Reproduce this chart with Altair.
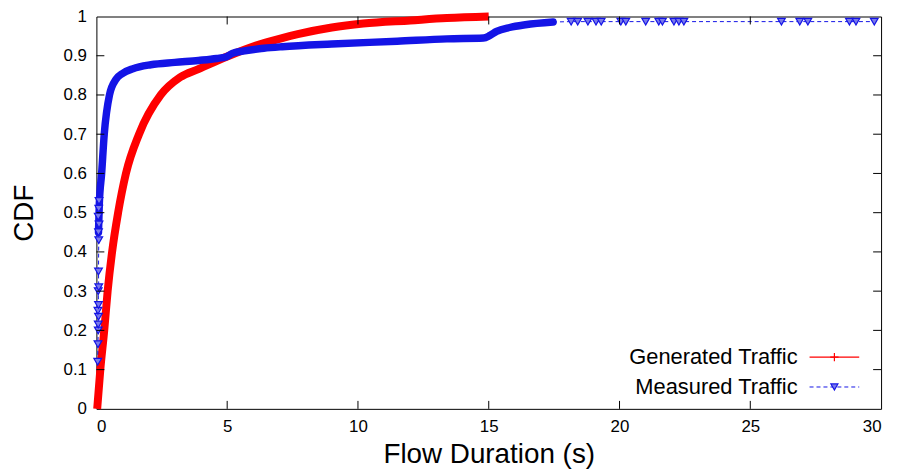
import altair as alt
import pandas as pd

# ---- data ----
SERIES = ["Generated Traffic", "Measured Traffic"]

GEN_X = [0.03, 0.15, 0.30, 0.43, 0.60, 0.83, 1.13, 1.63, 2.46, 3.20, 3.90, 5.00, 6.10, 7.10, 7.70, 9.00, 10.20, 12.00, 13.40, 15.00]
GEN_Y = [0.00, 0.10, 0.20, 0.30, 0.40, 0.50, 0.60, 0.70, 0.80, 0.845, 0.866, 0.898, 0.926, 0.945, 0.955, 0.972, 0.982, 0.990, 0.996, 1.000]

# isolated markers close to x = 0
MEAS_COL_X = [0.05, 0.06, 0.07, 0.07, 0.08, 0.06, 0.08, 0.07, 0.09, 0.08, 0.09, 0.08, 0.10, 0.07, 0.09, 0.10]
MEAS_COL_Y = [0.12, 0.165, 0.20, 0.215, 0.235, 0.25, 0.265, 0.30, 0.31, 0.35, 0.43, 0.45, 0.47, 0.49, 0.51, 0.53]

# dense part of the measured curve
MEAS_X = [0.08, 0.11, 0.20, 0.30, 0.50, 0.75, 1.00, 1.40, 2.08, 3.00, 3.90, 4.60, 4.95, 5.20, 5.60, 6.40, 7.10, 9.00, 11.50, 13.40, 14.80, 15.05, 15.30, 15.80, 16.40, 17.46]
MEAS_Y = [0.45, 0.52, 0.60, 0.70, 0.80, 0.84, 0.855, 0.867, 0.877, 0.883, 0.888, 0.893, 0.897, 0.906, 0.912, 0.919, 0.923, 0.930, 0.937, 0.943, 0.945, 0.952, 0.962, 0.972, 0.979, 0.986]

# sparse tail markers
MEAS_SPARSE_X = [18.15, 18.40, 18.79, 19.10, 19.30, 20.05, 20.24, 21.00, 21.50, 21.64, 22.08, 22.27, 22.46, 26.19, 26.89, 27.20, 28.79, 29.04, 29.74]
MEAS_SPARSE_Y = [0.987] * len(MEAS_SPARSE_X)

X_TICKS = [0, 5, 10, 15, 20, 25, 30]
Y_TICKS = [0, 0.1, 0.2, 0.3, 0.4, 0.5, 0.6, 0.7, 0.8, 0.9, 1.0]

X_TITLE = "Flow Duration (s)"
Y_TITLE = "CDF"

# ---- styling ----
FONT = "Liberation Sans"
RED = "#ff0000"
BLUE = "#1414e6"
BLUE_FILL = "#7a7aea"
W, H = 790, 395

gen = pd.DataFrame({"x": GEN_X, "y": GEN_Y})
gen["i"] = range(len(gen))
dense = pd.DataFrame({"x": MEAS_X, "y": MEAS_Y})
dense["i"] = range(len(dense))
col = pd.DataFrame({"x": MEAS_COL_X, "y": MEAS_COL_Y})
sparse = pd.DataFrame({"x": MEAS_SPARSE_X, "y": MEAS_SPARSE_Y})
allm = pd.concat([col, dense[["x", "y"]], sparse], ignore_index=True)
allm["i"] = range(len(allm))
markers = pd.concat([col, sparse], ignore_index=True)

xs = alt.Scale(domain=[0, 30], nice=False, zero=False)
ys = alt.Scale(domain=[0, 1], nice=False, zero=False)

common_axis = dict(ticks=False, tickSize=0, domain=False, grid=False, labelOverlap=False,
                   labelPadding=10, labelFontSize=17, labelFont=FONT, labelColor="black",
                   titleFont=FONT, titleFontSize=28, titleFontWeight="normal", titleColor="black",
                   titleBaseline="alphabetic", titleAlign="center")
X_AXIS = alt.Axis(values=X_TICKS, format="d", titleX=W / 2, titleY=54, **common_axis)
Y_AXIS = alt.Axis(values=Y_TICKS, format=".1~f", titleX=-64, titleY=H / 2, titleAngle=270, **common_axis)


def X():
    return alt.X("x:Q", scale=xs, title=X_TITLE, axis=X_AXIS)


def Y():
    return alt.Y("y:Q", scale=ys, title=Y_TITLE, axis=Y_AXIS)


red_line = alt.Chart(gen).mark_line(color=RED, strokeWidth=8, strokeCap="butt", interpolate="monotone").encode(
    x=X(), y=Y(), order="i:Q")

blue_thick = alt.Chart(dense).mark_line(color=BLUE, strokeWidth=7.5, strokeCap="round", interpolate="monotone").encode(
    x=X(), y=Y(), order="i:Q")

blue_dash = alt.Chart(allm).mark_line(color=BLUE, strokeWidth=1, strokeDash=[4, 3]).encode(
    x=X(), y=Y(), order="i:Q")

blue_pts = alt.Chart(markers).mark_point(shape="triangle-down", filled=True, fill=BLUE_FILL,
                                          stroke=BLUE, strokeWidth=1.2, size=60, opacity=1).encode(
    x=X(), y=Y())

xt = pd.DataFrame({"x": X_TICKS[1:-1]})
yt = pd.DataFrame({"y": Y_TICKS[1:-1]})
tick_kw = dict(color="black", strokeWidth=1)
xt_bot = alt.Chart(xt).mark_rule(**tick_kw).encode(x=X(), y=alt.value(H), y2=alt.value(H - 8))
xt_top = alt.Chart(xt).mark_rule(**tick_kw).encode(x=X(), y=alt.value(0), y2=alt.value(8))
yt_left = alt.Chart(yt).mark_rule(**tick_kw).encode(y=Y(), x=alt.value(0), x2=alt.value(8))
yt_right = alt.Chart(yt).mark_rule(**tick_kw).encode(y=Y(), x=alt.value(W), x2=alt.value(W - 8))

# ---- legend (gnuplot style: label then sample) ----
lg0 = pd.DataFrame({"label": [SERIES[0]]})
lg1 = pd.DataFrame({"label": [SERIES[1]]})
LX_TEXT, LX0, LX1, LXM = 706, 718, 768, 743
LY0, LY1 = 343, 373

leg_txt0 = alt.Chart(lg0).mark_text(align="right", baseline="middle", font=FONT, fontSize=22, color="black").encode(
    x=alt.value(LX_TEXT), y=alt.value(LY0), text="label:N")
leg_txt1 = alt.Chart(lg1).mark_text(align="right", baseline="middle", font=FONT, fontSize=22, color="black").encode(
    x=alt.value(LX_TEXT), y=alt.value(LY1), text="label:N")
leg_line0 = alt.Chart(lg0).mark_rule(color=RED, strokeWidth=1.2).encode(
    x=alt.value(LX0), x2=alt.value(LX1), y=alt.value(LY0))
leg_mark0 = alt.Chart(lg0).mark_point(shape="M-1,0L1,0M0,-1L0,1", filled=False, stroke=RED,
                                      strokeWidth=1.2, size=70, opacity=1).encode(
    x=alt.value(LXM), y=alt.value(LY0))
leg_line1 = alt.Chart(lg1).mark_rule(color=BLUE, strokeWidth=1, strokeDash=[4, 3]).encode(
    x=alt.value(LX0), x2=alt.value(LX1), y=alt.value(LY1))
leg_mark1 = alt.Chart(lg1).mark_point(shape="triangle-down", filled=True, fill=BLUE_FILL, stroke=BLUE,
                                      strokeWidth=1.2, size=50, opacity=1).encode(
    x=alt.value(LXM), y=alt.value(LY1))

chart = alt.layer(
    red_line, blue_thick, blue_dash, blue_pts,
    xt_bot, xt_top, yt_left, yt_right,
    leg_txt0, leg_txt1, leg_line0, leg_mark0, leg_line1, leg_mark1,
).properties(
    width=W, height=H,
    autosize=alt.AutoSizeParams(type="none"),
    padding={"left": 89, "top": 7, "right": 11, "bottom": 60},
    background="white",
).configure_view(
    stroke="black", strokeWidth=1
)

chart.save("out.html", embed_options={"renderer": "svg", "actions": False})
